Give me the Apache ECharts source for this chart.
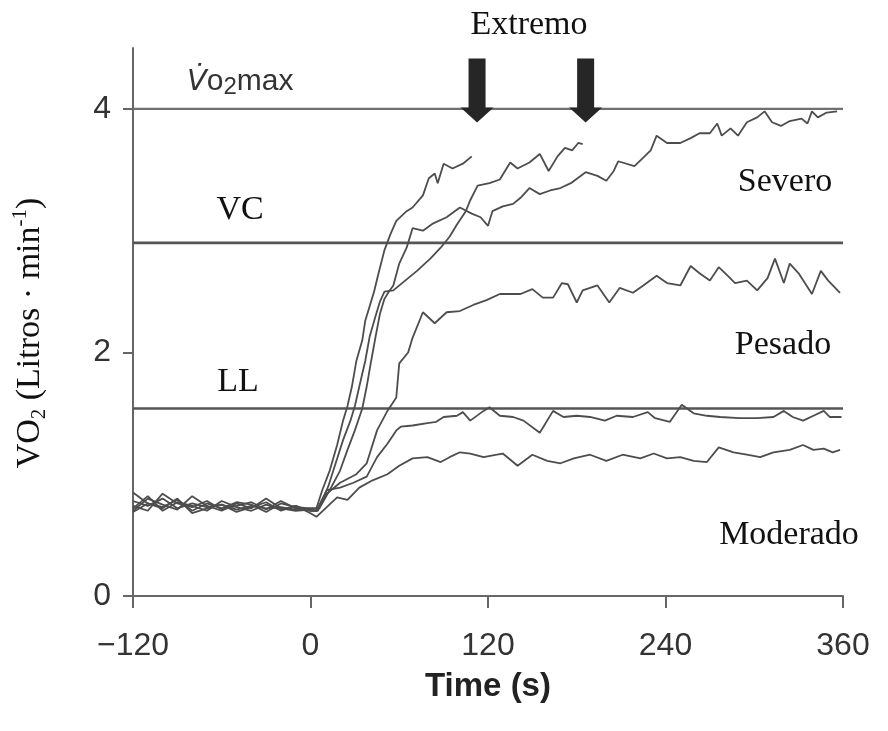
<!DOCTYPE html>
<html>
<head>
<meta charset="utf-8">
<script src="https://cdn.jsdelivr.net/npm/echarts@6/dist/echarts.min.js"></script>
<style>
  html, body { margin: 0; padding: 0; background: #fff; }
  #main { width: 888px; height: 731px; }
</style>
</head>
<body>
<div id="main"></div>
<script>
// ejes
const xTicks = [-120, 0, 120, 240, 360]
const yTicks = [0, 2, 4]

// umbrales (L/min)
const vo2max = 4.0
const vcLevel = 2.9
const llLevel = 1.54

// curvas [tiempo (s), VO2]
const extremo1 = [
  [-120, 0.78], [-110, 0.74], [-100, 0.80], [-90, 0.72], [-80, 0.76], [-70, 0.73], [-60, 0.75],
  [-50, 0.71], [-40, 0.74], [-30, 0.72], [-20, 0.73], [-10, 0.71], [0, 0.72],
  [4, 0.72], [8, 0.87], [13, 1.03], [18, 1.24], [22, 1.44], [25, 1.56], [28, 1.72], [31, 1.93],
  [35, 2.10], [37, 2.26], [40, 2.38], [43, 2.50], [46, 2.65], [50, 2.84], [54, 2.97], [58, 3.08],
  [65, 3.16], [69, 3.19], [76, 3.29], [80, 3.43], [84, 3.47], [86, 3.39], [90, 3.55], [96, 3.51],
  [103, 3.55], [109, 3.61]
]
const extremo2 = [
  [-120, 0.72], [-110, 0.82], [-100, 0.70], [-90, 0.77], [-80, 0.74], [-70, 0.70], [-60, 0.78],
  [-50, 0.73], [-40, 0.70], [-30, 0.75], [-20, 0.71], [-10, 0.74], [0, 0.70],
  [5, 0.70], [12, 0.90], [17, 1.09], [22, 1.28], [27, 1.44], [30, 1.56], [33, 1.72], [37, 1.93],
  [40, 2.13], [44, 2.30], [47, 2.42], [50, 2.50], [56, 2.51], [64, 2.59], [72, 2.67], [81, 2.77],
  [88, 2.86], [94, 2.95], [99, 3.05], [105, 3.16], [108, 3.25], [113, 3.37], [121, 3.39],
  [128, 3.42], [135, 3.56], [140, 3.51], [148, 3.56], [155, 3.63], [161, 3.49], [167, 3.61],
  [172, 3.68], [177, 3.66], [181, 3.72], [184, 3.71]
]
const severo = [
  [-120, 0.85], [-110, 0.76], [-100, 0.73], [-90, 0.79], [-80, 0.70], [-70, 0.76], [-60, 0.72],
  [-50, 0.77], [-40, 0.75], [-30, 0.69], [-20, 0.76], [-10, 0.73], [0, 0.72],
  [6, 0.72], [13, 0.87], [20, 1.03], [25, 1.20], [30, 1.36], [35, 1.54], [38, 1.72], [41, 1.93],
  [44, 2.13], [47, 2.32], [50, 2.44], [53, 2.50], [56, 2.55], [60, 2.73], [65, 2.86], [69, 3.02],
  [76, 3.00], [83, 3.06], [92, 3.11], [101, 3.19], [109, 3.14], [115, 3.11], [120, 3.04],
  [123, 3.16], [130, 3.20], [137, 3.22], [142, 3.27], [148, 3.35], [155, 3.30], [162, 3.33],
  [169, 3.35], [176, 3.39], [186, 3.48], [194, 3.45], [200, 3.41], [205, 3.49], [208, 3.57],
  [219, 3.53], [225, 3.60], [230, 3.66], [234, 3.78], [241, 3.72], [250, 3.72], [257, 3.76],
  [263, 3.80], [270, 3.80], [275, 3.88], [278, 3.78], [284, 3.84], [289, 3.78], [295, 3.89],
  [302, 3.93], [307, 3.98], [312, 3.89], [318, 3.86], [324, 3.90], [332, 3.92], [336, 3.88],
  [339, 3.98], [343, 3.93], [349, 3.97], [356, 3.98]
]
const pesado = [
  [-120, 0.70], [-110, 0.80], [-100, 0.75], [-90, 0.71], [-80, 0.82], [-70, 0.74], [-60, 0.70],
  [-50, 0.76], [-40, 0.72], [-30, 0.80], [-20, 0.72], [-10, 0.70], [0, 0.71],
  [4, 0.70], [11, 0.84], [20, 0.93], [31, 1.00], [38, 1.09], [45, 1.36], [52, 1.52], [58, 1.63],
  [60, 1.91], [66, 2.00], [69, 2.12], [76, 2.33], [84, 2.24], [92, 2.33], [101, 2.34], [110, 2.39],
  [119, 2.43], [128, 2.48], [133, 2.48], [142, 2.48], [150, 2.52], [157, 2.45], [164, 2.45],
  [170, 2.57], [174, 2.56], [180, 2.41], [184, 2.51], [194, 2.55], [202, 2.41], [209, 2.53],
  [218, 2.49], [225, 2.55], [234, 2.63], [241, 2.57], [250, 2.55], [257, 2.71], [263, 2.65],
  [270, 2.59], [276, 2.70], [282, 2.63], [287, 2.57], [295, 2.59], [302, 2.51], [309, 2.61],
  [314, 2.77], [320, 2.57], [324, 2.73], [330, 2.65], [339, 2.48], [345, 2.67], [350, 2.59],
  [358, 2.49]
]
const moderado1 = [
  [-120, 0.74], [-110, 0.70], [-100, 0.84], [-90, 0.76], [-80, 0.73], [-70, 0.78], [-60, 0.71],
  [-50, 0.74], [-40, 0.77], [-30, 0.71], [-20, 0.78], [-10, 0.72], [0, 0.70],
  [4, 0.70], [11, 0.87], [20, 0.89], [29, 0.93], [38, 0.98], [45, 1.14], [52, 1.25], [58, 1.36],
  [61, 1.39], [69, 1.40], [79, 1.42], [85, 1.43], [90, 1.47], [99, 1.48], [103, 1.51], [108, 1.44],
  [117, 1.52], [121, 1.55], [128, 1.48], [137, 1.47], [144, 1.44], [155, 1.34], [164, 1.52],
  [171, 1.47], [180, 1.48], [189, 1.47], [199, 1.44], [207, 1.48], [218, 1.47], [228, 1.51],
  [233, 1.46], [243, 1.43], [251, 1.57], [259, 1.50], [268, 1.48], [277, 1.47], [290, 1.46],
  [302, 1.46], [313, 1.47], [320, 1.52], [326, 1.47], [333, 1.44], [340, 1.48], [347, 1.52],
  [351, 1.47], [359, 1.47]
]
const moderado2 = [
  [-120, 0.69], [-110, 0.76], [-100, 0.72], [-90, 0.80], [-80, 0.68], [-70, 0.72], [-60, 0.75],
  [-50, 0.69], [-40, 0.73], [-30, 0.77], [-20, 0.70], [-10, 0.74], [0, 0.68],
  [4, 0.65], [11, 0.73], [18, 0.81], [25, 0.79], [33, 0.89], [42, 0.95], [52, 1.00], [60, 1.07],
  [69, 1.13], [79, 1.14], [88, 1.10], [94, 1.14], [101, 1.18], [108, 1.17], [117, 1.14],
  [126, 1.16], [130, 1.17], [140, 1.07], [150, 1.16], [160, 1.11], [169, 1.09], [178, 1.13],
  [189, 1.16], [200, 1.11], [211, 1.16], [223, 1.13], [232, 1.17], [241, 1.13], [250, 1.14],
  [259, 1.11], [268, 1.10], [276, 1.22], [286, 1.18], [295, 1.16], [304, 1.14], [313, 1.18],
  [324, 1.20], [333, 1.24], [340, 1.20], [347, 1.21], [353, 1.18], [358, 1.20]
]

// flechas "Extremo" (fin de las dos curvas extremas)
const arrowPoints = [[112.6, 4.15], [186, 4.15]]

const chart = echarts.init(document.getElementById('main'))

const curveStyle = { color: '#4d4d4d', width: 1.8 }

function curve (name, data) {
  return {
    name: name,
    type: 'line',
    data: data,
    showSymbol: false,
    symbol: 'none',
    lineStyle: curveStyle,
    silent: true,
    z: 3
  }
}

function level (name, y, color, width) {
  return {
    name: name,
    type: 'line',
    data: [[xTicks[0], y], [xTicks[xTicks.length - 1], y]],
    symbol: 'none',
    lineStyle: { color: color, width: width },
    silent: true,
    z: 2
  }
}

const serif = { fontFamily: 'Liberation Serif', fontSize: 34, fill: '#111' }

function label (text, x, y) {
  return {
    type: 'text',
    x: x,
    y: y,
    style: Object.assign({ text: text, align: 'center', verticalAlign: 'middle' }, serif)
  }
}

chart.setOption({
  animation: false,
  grid: { left: 133, right: 45, top: 48, bottom: 135 },
  xAxis: {
    type: 'value',
    min: -120,
    max: 360,
    interval: 120,
    name: 'Time (s)',
    nameLocation: 'middle',
    nameGap: 74,
    nameTextStyle: { fontFamily: 'Liberation Sans', fontWeight: 'bold', fontSize: 33, color: '#222' },
    axisLine: { onZero: false, lineStyle: { color: '#666', width: 2 } },
    axisTick: { length: 12, lineStyle: { color: '#666', width: 2 } },
    axisLabel: {
      fontFamily: 'Liberation Sans',
      fontSize: 32,
      color: '#333',
      margin: 34,
      formatter: v => (v < 0 ? '\u2212' + Math.abs(v) : String(v))
    },
    splitLine: { show: false }
  },
  yAxis: {
    type: 'value',
    min: 0,
    max: 4.5,
    interval: 2,
    axisLine: { show: true, onZero: false, lineStyle: { color: '#666', width: 2 } },
    axisTick: { show: true, length: 10, customValues: yTicks, lineStyle: { color: '#666', width: 2 } },
    axisLabel: {
      fontFamily: 'Liberation Sans',
      fontSize: 32,
      color: '#333',
      margin: 22,
      customValues: yTicks
    },
    splitLine: { show: false }
  },
  series: [
    level('VO2max', vo2max, '#707070', 2.2),
    level('VC', vcLevel, '#555', 2.6),
    level('LL', llLevel, '#555', 2.6),
    curve('Extremo 1', extremo1),
    curve('Extremo 2', extremo2),
    curve('Severo', severo),
    curve('Pesado', pesado),
    curve('Moderado 1', moderado1),
    curve('Moderado 2', moderado2),
    {
      name: 'Flechas',
      type: 'scatter',
      data: arrowPoints,
      symbol: 'path://M8,0 H25 V49 H33 L16.5,64 L0,49 H8 Z',
      symbolSize: [33, 64],
      itemStyle: { color: '#262626', opacity: 1 },
      silent: true,
      z: 5
    }
  ],
  graphic: [
    label('Extremo', 529, 25),
    label('VC', 240, 210),
    label('LL', 238, 382),
    label('Severo', 785, 182),
    label('Pesado', 783, 345),
    label('Moderado', 789, 535),
    {
      type: 'text',
      x: 187,
      y: 82,
      style: {
        text: '{v|V\u0307}{o|o}{s|2}{m|max}',
        verticalAlign: 'middle',
        rich: {
          v: { fontFamily: 'DejaVu Sans', fontStyle: 'italic', fontSize: 29, fill: '#333', lineHeight: 34 },
          o: { fontFamily: 'Liberation Sans', fontSize: 30, fill: '#333', lineHeight: 34 },
          s: { fontFamily: 'Liberation Sans', fontSize: 24, fill: '#333', lineHeight: 22, verticalAlign: 'bottom' },
          m: { fontFamily: 'Liberation Sans', fontSize: 30, fill: '#333', lineHeight: 34 }
        }
      }
    },
    {
      type: 'text',
      x: 30,
      y: 333,
      rotation: Math.PI / 2,
      style: {
        text: '{n|VO}{sub|2}{n| (Litros \u00b7 min}{sup|-1}{n|)}',
        align: 'center',
        verticalAlign: 'middle',
        rich: {
          n: { fontFamily: 'Liberation Serif', fontSize: 34, fill: '#111', lineHeight: 40 },
          sub: { fontFamily: 'Liberation Serif', fontSize: 21, fill: '#111', lineHeight: 23, verticalAlign: 'bottom' },
          sup: { fontFamily: 'Liberation Serif', fontSize: 21, fill: '#111', lineHeight: 23, verticalAlign: 'top' }
        }
      }
    }
  ]
})
</script>
</body>
</html>
